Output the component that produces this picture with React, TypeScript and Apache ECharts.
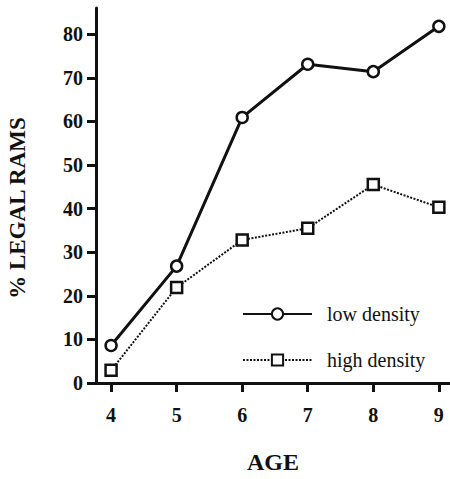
import React, { useEffect, useRef } from "react";
import * as echarts from "echarts";

const ages = [4, 5, 6, 7, 8, 9];
const lowDensity = [8.6, 26.8, 60.9, 73.1, 71.4, 81.8];
const highDensity = [2.9, 21.9, 32.8, 35.5, 45.5, 40.3];
const yTicks = [0, 10, 20, 30, 40, 50, 60, 70, 80];
const xTicks = [4, 5, 6, 7, 8, 9];

const serif = "'Liberation Serif', 'Times New Roman', serif";
const ink = "#111";

export default function App() {
  const ref = useRef<HTMLDivElement>(null);
  useEffect(() => {
    if (!ref.current) return;
    const chart = echarts.init(ref.current, null, { renderer: "svg" });
    chart.setOption({
      animation: false,
      backgroundColor: "#fff",
      grid: { left: 96, right: 0, top: 8, bottom: 83, containLabel: false },
      xAxis: {
        type: "value",
        min: 3.77,
        max: 9.17,
        name: "AGE",
        nameLocation: "middle",
        nameGap: 67,
        nameTextStyle: { fontFamily: serif, fontWeight: "bold", fontSize: 24, color: ink },
        axisLine: { show: true, lineStyle: { color: ink, width: 3 } },
        axisTick: { show: true, customValues: xTicks, length: 9, lineStyle: { color: ink, width: 3 } },
        axisLabel: { customValues: xTicks, margin: 22, fontFamily: serif, fontWeight: "bold", fontSize: 20, color: ink },
        splitLine: { show: false },
      },
      yAxis: {
        type: "value",
        min: 0,
        max: 86,
        axisLine: { show: true, lineStyle: { color: ink, width: 3 } },
        axisTick: { show: true, customValues: yTicks, length: 9, lineStyle: { color: ink, width: 3 } },
        axisLabel: { customValues: yTicks, margin: 13, fontFamily: serif, fontWeight: "bold", fontSize: 20, color: ink },
        splitLine: { show: false },
      },
      legend: [
        {
          data: ["low density"],
          left: 237,
          top: 299,
          itemWidth: 69,
          itemHeight: 14,
          textStyle: { fontFamily: serif, fontSize: 20, color: ink, padding: [0, 0, 0, 10] },
        },
        {
          data: ["high density"],
          left: 237,
          top: 345,
          itemWidth: 69,
          itemHeight: 14,
          textStyle: { fontFamily: serif, fontSize: 20, color: ink, padding: [0, 0, 0, 10] },
        },
      ],
      graphic: [
        {
          type: "text",
          x: 17,
          y: 208,
          rotation: Math.PI / 2,
          style: {
            text: "% LEGAL RAMS",
            fontFamily: serif,
            fontWeight: "bold",
            fontSize: 23,
            fill: ink,
            align: "center",
            verticalAlign: "middle",
          },
        },
      ],
      series: [
        {
          name: "low density",
          type: "line",
          data: ages.map((a, i) => [a, lowDensity[i]]),
          symbol: "circle",
          symbolSize: 11,
          lineStyle: { color: ink, width: 3 },
          itemStyle: { color: "#fff", borderColor: ink, borderWidth: 2.5 },
          z: 3,
        },
        {
          name: "high density",
          type: "line",
          data: ages.map((a, i) => [a, highDensity[i]]),
          symbol: "rect",
          symbolSize: 11,
          lineStyle: { color: ink, width: 2, type: [2, 1.5] },
          itemStyle: { color: "#fff", borderColor: ink, borderWidth: 2.5 },
          z: 2,
        },
      ],
    });
    return () => chart.dispose();
  }, []);
  return (
    <div
      ref={ref}
      style={{ position: "fixed", left: 0, top: 0, width: 450, height: 479, background: "#fff" }}
    />
  );
}
